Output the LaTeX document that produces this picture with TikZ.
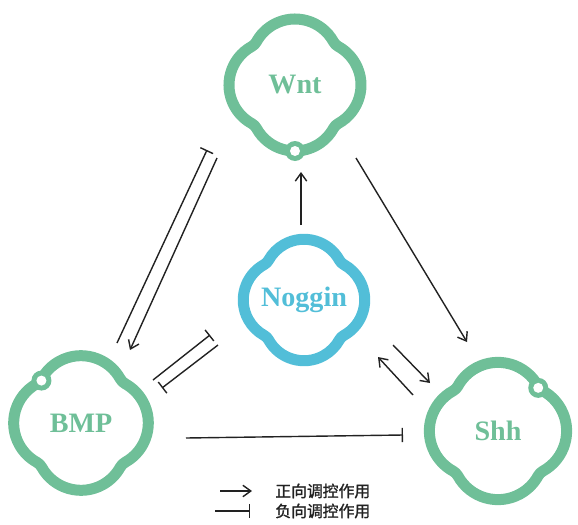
\documentclass[tikz,border=0pt]{standalone}
\usepackage{fontspec}
\setmainfont{Liberation Serif}
\newfontfamily\cjk[FakeBold=1.5]{Noto Sans CJK SC}
\usetikzlibrary{arrows.meta,calc}
\definecolor{Mint}{HTML}{6FBF98}
\definecolor{Sky}{HTML}{52BED8}
\definecolor{Ink}{HTML}{222222}

\tikzset{
  gene/.style={font=\bfseries\fontsize{16}{18}\selectfont},
  clover/.style={line width=0.22cm,line join=round},
  act/.style={draw=Ink,line width=0.8pt,-{Straight Barb[length=4.5pt,width=6.5pt]}},
  inh/.style={draw=Ink,line width=0.8pt,-{Bar[width=8pt]}},
  legend/.style={font=\cjk\fontsize{9}{10}\selectfont,text=Ink,anchor=west,inner sep=0pt}
}

\begin{document}
\begin{tikzpicture}[x=0.02cm,y=-0.02cm]
  \useasboundingbox (0,0) rectangle (578,524);
  % genes
  \node[gene,text=Mint] (wnt) at (295,85) {Wnt};
  \node[gene,text=Sky] (nog) at (304,300) {Noggin};
  \node[gene,text=Mint] (bmp) at (81,423) {BMP};
  \node[gene,text=Mint] (shh) at (498,431) {Shh};
  % four-lobed rings: lobe arcs r=44 joined by notch arcs r=12
  \foreach \n/\c/\s in {wnt/Mint/1,bmp/Mint/1.02,shh/Mint/1.04,nog/Sky/0.92}{
    \draw[clover,draw=\c,shift={(\n)},scale=\s] (-38.54,43.24)
      \foreach \k in {0,...,3}{
        arc[start angle=151.13-90*\k,end angle=28.87-90*\k,radius=44]
        arc[start angle=208.87-90*\k,end angle=241.13-90*\k,radius=12]
      } -- cycle;
  }
  \foreach \n/\a/\rad in {wnt/90/66,bmp/-133/58,shh/-47/59}{
    \fill[Mint] ($(\n)+(\a:\rad)$) circle (10);
    \fill[white] ($(\n)+(\a:\rad)$) circle (5);
  }
  % regulation
  \draw[act] ($(wnt)+(61,73)$) -- ($(shh)+(-31,-89)$);
  \draw[act] ($(nog)+(-3,-75)$) -- ($(wnt)+(6,87)$);
  \draw[inh] ($(bmp)+(105,15)$) -- ($(shh)+(-95,4)$);
  \draw[inh] ($(bmp)+(36,-80)$) -- ($(wnt)+(-88,65)$);
  \draw[act] ($(wnt)+(-78,73)$) -- ($(bmp)+(49,-73)$);
  \draw[inh] ($(bmp)+(72,-43)$) -- ($(nog)+(-94,35)$);
  \draw[inh] ($(nog)+(-86,45)$) -- ($(bmp)+(81,-35)$);
  \draw[act] ($(shh)+(-85,-36)$) -- ($(nog)+(74,57)$);
  \draw[act] ($(nog)+(89,45)$) -- ($(shh)+(-68,-48)$);
  % legend
  \node[legend] (pos) at (275,491) {正向调控作用};
  \node[legend] (neg) at (275,511) {负向调控作用};
  \draw[act] ($(pos.west)+(-55,0)$) -- ($(pos.west)+(-23,0)$);
  \draw[inh] ($(neg.west)+(-60,0)$) -- ($(neg.west)+(-25,0)$);
\end{tikzpicture}
\end{document}
